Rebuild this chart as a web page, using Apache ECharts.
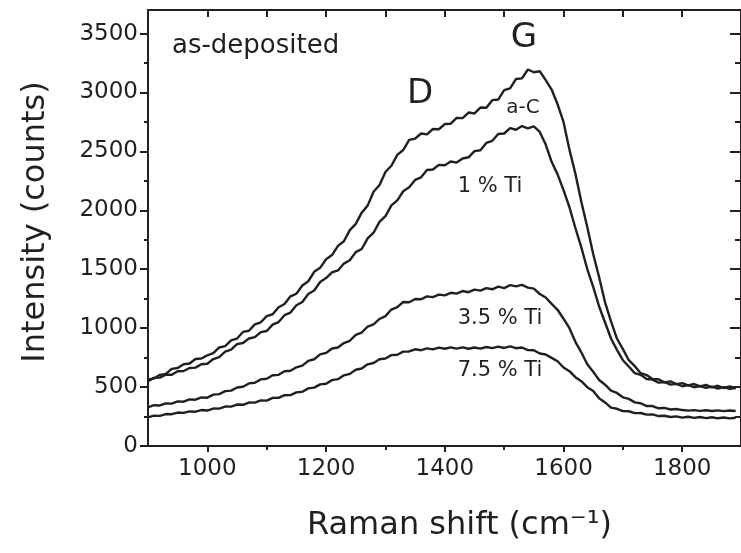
<!DOCTYPE html>
<html>
<head>
<meta charset="utf-8">
<script src="https://cdn.jsdelivr.net/npm/echarts@6/dist/echarts.min.js"></script>
<style>
html,body{margin:0;padding:0;background:#fff;}
#chart{width:741px;height:553px;}
</style>
</head>
<body>
<div id="chart"></div>
<script>
// Raman shift (cm-1), sampled every 10 cm-1
const ramanShift = [900,910,920,930,940,950,960,970,980,990,1000,1010,1020,1030,1040,1050,1060,1070,1080,1090,1100,1110,1120,1130,1140,1150,1160,1170,1180,1190,1200,1210,1220,1230,1240,1250,1260,1270,1280,1290,1300,1310,1320,1330,1340,1350,1360,1370,1380,1390,1400,1410,1420,1430,1440,1450,1460,1470,1480,1490,1500,1510,1520,1530,1540,1550,1560,1570,1580,1590,1600,1610,1620,1630,1640,1650,1660,1670,1680,1690,1700,1710,1720,1730,1740,1750,1760,1770,1780,1790,1800,1810,1820,1830,1840,1850,1860,1870,1880,1890];

const intensityAC = [565,572,604,612,655,662,694,700,738,742,770,788,836,848,897,912,968,978,1032,1050,1102,1118,1178,1205,1270,1292,1362,1398,1478,1512,1585,1620,1698,1738,1832,1885,1980,2040,2158,2215,2325,2378,2470,2512,2598,2608,2652,2645,2690,2688,2732,2735,2784,2782,2830,2822,2872,2870,2935,2940,3020,3035,3115,3120,3195,3172,3180,3105,3025,2900,2750,2515,2310,2072,1858,1630,1432,1218,1058,912,822,728,678,618,602,568,566,540,548,525,534,515,526,506,518,498,511,492,506,488];

const intensityTi1 = [550,578,580,606,605,634,636,662,665,694,698,738,755,800,818,864,874,912,924,966,976,1030,1052,1110,1132,1195,1222,1290,1320,1392,1425,1474,1490,1548,1576,1645,1672,1762,1810,1902,1950,2042,2085,2162,2195,2258,2280,2342,2346,2386,2382,2414,2405,2440,2450,2502,2510,2572,2590,2648,2652,2698,2684,2715,2695,2712,2665,2558,2412,2305,2172,2026,1850,1686,1502,1350,1184,1048,912,816,728,675,618,604,568,563,538,543,521,527,507,517,499,509,493,504,488,500,484,496];

const intensityTi35 = [328,346,344,362,360,379,376,396,393,412,410,436,440,466,470,497,503,531,537,565,571,600,604,634,638,668,682,722,736,777,790,827,836,874,893,943,963,1013,1033,1078,1102,1158,1178,1222,1220,1248,1245,1270,1263,1285,1278,1300,1293,1315,1305,1327,1318,1340,1330,1352,1340,1365,1355,1368,1344,1336,1290,1260,1206,1156,1080,1000,884,795,694,630,560,520,470,450,413,400,370,363,339,339,320,323,310,314,305,300,304,298,303,297,302,296,301,297];

const intensityTi75 = [243,257,256,271,270,284,281,294,291,305,301,318,317,335,334,352,350,369,368,387,385,408,409,431,432,455,460,489,495,523,528,559,567,600,612,647,658,693,704,736,742,771,774,801,802,821,813,828,820,835,825,837,826,837,825,836,826,840,830,843,832,845,830,836,814,813,785,777,748,719,666,635,584,550,499,467,405,370,326,316,296,295,279,280,266,268,254,257,246,251,241,248,239,246,237,244,235,242,234,240];

const xMajorTicks = [1000,1200,1400,1600,1800];
const xMinorTicks = [1100,1300,1500,1700];
const xTopTicks = [1000,1100,1200,1300,1400,1500,1600,1700,1800];
const yMajorTicks = [0,500,1000,1500,2000,2500,3000,3500];
const yMinorTicks = [250,750,1250,1750,2250,2750,3250];

const seriesNames = ['a-C','1 % Ti','3.5 % Ti','7.5 % Ti'];
const seriesValues = [intensityAC, intensityTi1, intensityTi35, intensityTi75];

const INK = '#231f20';
const FONT = '"DejaVu Sans", "Liberation Sans", Arial, sans-serif';
const plain = v => String(v);

const chart = echarts.init(document.getElementById('chart'), null, {renderer:'canvas'});

function baseX(extra){
  return Object.assign({
    type:'value', min:900, max:1899, gridIndex:0,
    splitLine:{show:false}, axisLabel:{show:false},
    axisLine:{show:false, onZero:false, lineStyle:{color:INK,width:2}},
    axisTick:{show:false}
  }, extra);
}
function baseY(extra){
  return Object.assign({
    type:'value', min:0, max:3700, gridIndex:0,
    splitLine:{show:false}, axisLabel:{show:false},
    axisLine:{show:false, onZero:false, lineStyle:{color:INK,width:2}},
    axisTick:{show:false}
  }, extra);
}

const option = {
  animation:false,
  backgroundColor:'#ffffff',
  grid:{left:148, top:10, width:596, height:436, containLabel:false},
  xAxis:[
    baseX({
      position:'bottom',
      axisLine:{show:true,onZero:false,lineStyle:{color:INK,width:2}},
      axisTick:{show:true,length:6,inside:false,customValues:xMajorTicks,lineStyle:{color:INK,width:2}},
      axisLabel:{show:true,customValues:xMajorTicks,formatter:plain,color:INK,fontSize:23,fontFamily:FONT,margin:12},
      name:'Raman shift (cm\u207B\u00B9)',
      nameLocation:'middle', nameGap:64,
      nameTextStyle:{color:INK,fontSize:32,fontFamily:FONT,padding:[0,0,0,30]}
    }),
    baseX({
      position:'bottom',
      axisTick:{show:true,length:4,inside:false,customValues:xMinorTicks,lineStyle:{color:INK,width:2}}
    }),
    baseX({
      position:'top',
      axisLine:{show:true,onZero:false,lineStyle:{color:INK,width:2}},
      axisTick:{show:true,length:7,inside:true,customValues:xTopTicks,lineStyle:{color:INK,width:2}}
    })
  ],
  yAxis:[
    baseY({
      position:'left',
      axisLine:{show:true,onZero:false,lineStyle:{color:INK,width:2}},
      axisTick:{show:true,length:8,inside:false,customValues:yMajorTicks,lineStyle:{color:INK,width:2}},
      axisLabel:{show:true,customValues:yMajorTicks,formatter:plain,color:INK,fontSize:23,fontFamily:FONT,margin:10},
      name:'Intensity (counts)',
      nameLocation:'middle', nameGap:96,
      nameTextStyle:{color:INK,fontSize:32,fontFamily:FONT,padding:[0,0,0,12]}
    }),
    baseY({
      position:'left',
      axisTick:{show:true,length:4,inside:false,customValues:yMinorTicks,lineStyle:{color:INK,width:2}}
    }),
    baseY({
      position:'right',
      axisLine:{show:true,onZero:false,lineStyle:{color:INK,width:2}},
      axisTick:{show:true,length:11,inside:true,customValues:yMajorTicks,lineStyle:{color:INK,width:2}}
    }),
    baseY({
      position:'right',
      axisTick:{show:true,length:6,inside:true,customValues:yMinorTicks,lineStyle:{color:INK,width:2}}
    })
  ],
  series: seriesNames.map((name,i)=>({
    name:name, type:'line', xAxisIndex:0, yAxisIndex:0,
    data: ramanShift.map((x,k)=>[x, seriesValues[i][k]]),
    showSymbol:false, symbol:'none', smooth:false,
    lineStyle:{color:INK,width:2.4},
    clip:true, silent:true
  })),
  graphic:[
    {type:'text', left:172, top:33, style:{text:'as-deposited', fill:INK, fontSize:26, fontFamily:FONT}},
    {type:'text', x:524, y:38, style:{text:'G', fill:INK, fontSize:34, fontFamily:FONT, align:'center', verticalAlign:'middle'}},
    {type:'text', x:420, y:94, style:{text:'D', fill:INK, fontSize:34, fontFamily:FONT, align:'center', verticalAlign:'middle'}},
    {type:'text', x:523, y:108, style:{text:'a-C', fill:INK, fontSize:20, fontFamily:FONT, align:'center', verticalAlign:'middle'}},
    {type:'text', x:490, y:187, style:{text:'1 % Ti', fill:INK, fontSize:21, fontFamily:FONT, align:'center', verticalAlign:'middle'}},
    {type:'text', x:500, y:319, style:{text:'3.5 % Ti', fill:INK, fontSize:21, fontFamily:FONT, align:'center', verticalAlign:'middle'}},
    {type:'text', x:500, y:371, style:{text:'7.5 % Ti', fill:INK, fontSize:21, fontFamily:FONT, align:'center', verticalAlign:'middle'}}
  ]
};
chart.setOption(option);
</script>
</body>
</html>
